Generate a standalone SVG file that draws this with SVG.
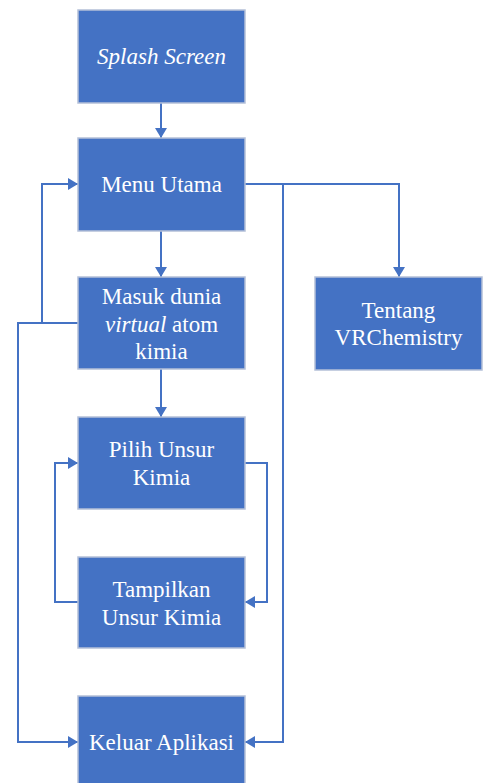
<svg xmlns="http://www.w3.org/2000/svg" width="488" height="783" viewBox="0 0 488 783">
<style>
.box{fill:#4472C4;stroke:#B4C0D8;stroke-width:1.5}
.t{font-family:"Liberation Serif","Times New Roman",serif;font-size:23px;fill:#fff;text-anchor:middle}
.c{fill:none;stroke:#4472C4;stroke-width:2}
</style>
<defs>
<marker id="ah" viewBox="0 0 10 12" refX="10" refY="6" markerWidth="10" markerHeight="12" markerUnits="userSpaceOnUse" orient="auto">
<path d="M0,0 L10,6 L0,12 z" fill="#4472C4"/>
</marker>
</defs>
<rect width="488" height="783" fill="#fff"/>
<g id="connectors">
<path class="c" d="M161,103 V138" marker-end="url(#ah)"/>
<path class="c" d="M161,231 V277" marker-end="url(#ah)"/>
<path class="c" d="M161,369 V417" marker-end="url(#ah)"/>
<path class="c" d="M245,184 H399 V277" marker-end="url(#ah)"/>
<path class="c" d="M283,184 V742 H245" marker-end="url(#ah)"/>
<path class="c" d="M78,323 H42 V184 H78" marker-end="url(#ah)"/>
<path class="c" d="M42,323 H18 V742 H78" marker-end="url(#ah)"/>
<path class="c" d="M245,463 H267 V602 H245" marker-end="url(#ah)"/>
<path class="c" d="M78,602 H55 V463 H78" marker-end="url(#ah)"/>
</g>
<g id="splash">
<rect class="box" x="78" y="10" width="167" height="93"/>
<text class="t" x="161.5" y="64" font-style="italic">Splash Screen</text>
</g>
<g id="menu">
<rect class="box" x="78" y="138" width="167" height="93"/>
<text class="t" x="161.5" y="192">Menu Utama</text>
</g>
<g id="tentang">
<rect class="box" x="315" y="277" width="167" height="93"/>
<text class="t" x="398.5" y="318">Tentang</text>
<text class="t" x="398.5" y="345">VRChemistry</text>
</g>
<g id="masuk">
<rect class="box" x="78" y="277" width="167" height="92"/>
<text class="t" x="161.5" y="304">Masuk dunia</text>
<text class="t" x="161.5" y="332"><tspan font-style="italic">virtual</tspan> atom</text>
<text class="t" x="161.5" y="359">kimia</text>
</g>
<g id="pilih">
<rect class="box" x="78" y="417" width="167" height="92"/>
<text class="t" x="161.5" y="457">Pilih Unsur</text>
<text class="t" x="161.5" y="485">Kimia</text>
</g>
<g id="tampilkan">
<rect class="box" x="78" y="557" width="167" height="91"/>
<text class="t" x="161.5" y="597">Tampilkan</text>
<text class="t" x="161.5" y="625">Unsur Kimia</text>
</g>
<g id="keluar">
<rect class="box" x="78" y="696" width="167" height="93"/>
<text class="t" x="161.5" y="750">Keluar Aplikasi</text>
</g>
</svg>
